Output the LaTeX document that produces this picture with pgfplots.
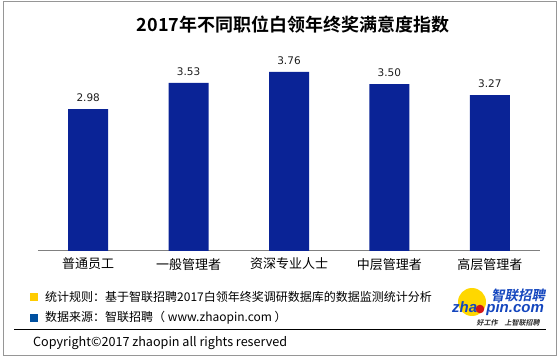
\documentclass[border=0pt]{standalone}
\usepackage{fontspec}
\usepackage{pgfplots}
\pgfplotsset{compat=1.18}
\setmainfont{Noto Sans CJK SC}[BoldFont={Noto Sans CJK SC Bold}]
\newfontfamily\valfont{DejaVu Sans}
\newfontfamily\logocjk{Noto Sans CJK SC Bold}[FakeSlant=0.2]
\newfontfamily\logolat{Liberation Sans}
\definecolor{barblue}{RGB}{10,35,150}
\definecolor{axisgray}{RGB}{128,128,128}
\definecolor{bordergray}{RGB}{150,150,150}
\definecolor{noteyellow}{RGB}{255,204,0}
\definecolor{noteblue}{RGB}{0,80,160}
\definecolor{logoblue}{RGB}{20,70,190}
\definecolor{logoyellow}{RGB}{255,215,0}
\definecolor{logored}{RGB}{210,20,20}
\begin{document}
\begin{tikzpicture}
\path[use as bounding box] (0,0) rectangle (560pt,359pt);
\draw[bordergray, line width=1pt] (3pt,3pt) rectangle (556pt,357pt);
\node[font=\fontsize{18}{18}\selectfont\bfseries] at (293pt,334pt) {2017年不同职位白领年终奖满意度指数};
\begin{axis}[
  at={(38pt,108pt)}, anchor=south west,
  scale only axis, width=502pt, height=190.6pt,
  xmin=-0.5, xmax=4.5, ymin=0, ymax=4,
  axis x line*=bottom, hide y axis,
  x axis line style={draw=axisgray, line width=1pt, -},
  xtick=data,
  xticklabels={普通员工,一般管理者,资深专业人士,中层管理者,高层管理者},
  major tick length=0pt,
  xticklabel style={font=\fontsize{13}{13}\selectfont, yshift=-3.5pt},
  ybar, bar width=40pt,
  point meta=explicit symbolic,
  nodes near coords,
  nodes near coords style={font=\valfont\fontsize{10.5}{10.5}\selectfont, text={rgb,255:red,30;green,30;blue,30}, yshift=4pt},
  clip=false,
]
\addplot[fill=barblue, draw=none] coordinates {
  (0,2.98) [2.98]
  (1,3.53) [3.53]
  (2,3.76) [3.76]
  (3,3.50) [3.50]
  (4,3.27) [3.27]
};
\end{axis}
% footer
\fill[noteyellow] (30pt,58pt) rectangle (38pt,66pt);
\fill[noteblue] (30pt,37pt) rectangle (38pt,45pt);
\node[anchor=west, font=\fontsize{12}{12}\selectfont, inner sep=0pt] at (45pt,62pt) {统计规则：基于智联招聘2017白领年终奖调研数据库的数据监测统计分析};
\node[anchor=west, font=\fontsize{12}{12}\selectfont, inner sep=0pt] at (45pt,41pt) {数据来源：智联招聘（ www.zhaopin.com ）};
\draw[black, line width=0.8pt] (14pt,30pt) -- (546pt,30pt);
\node[anchor=west, font=\fontsize{12.6}{12.6}\selectfont, inner sep=0pt] at (33pt,16pt) {Copyright©2017 zhaopin all rights reserved};
% logo
\fill[logoyellow] (472pt,57pt) circle (14pt);
\node[anchor=base, font=\logocjk\fontsize{13.5}{13.5}\selectfont, text=logoblue, inner sep=0pt] at (518pt,58.5pt) {智联招聘};
\node[anchor=base west, font=\logolat\bfseries\itshape\fontsize{15}{15}\selectfont, text=logoblue, inner sep=0pt] at (452pt,46pt) {zha\phantom{o}pin.com};
\fill[logored] (480pt,50pt) circle (4.3pt);
\node[font=\logocjk\fontsize{7}{7}\selectfont, text={rgb,255:red,40;green,40;blue,40}, inner sep=0pt] at (508pt,36pt) {好工作\quad 上智联招聘};
\end{tikzpicture}
\end{document}
